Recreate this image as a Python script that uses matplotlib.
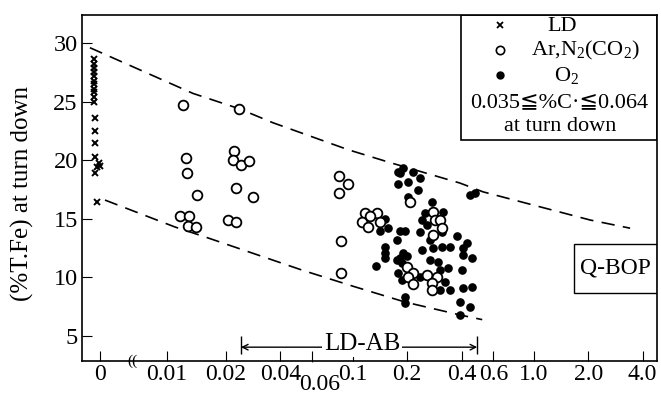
import numpy as np
import matplotlib
matplotlib.use('Agg')
import matplotlib.pyplot as plt
from matplotlib.patches import Rectangle
import matplotlib.transforms as mtransforms

plt.rcParams['font.family'] = ['Liberation Serif', 'DejaVu Serif', 'DejaVu Sans']
plt.rcParams['mathtext.fontset'] = 'custom'
plt.rcParams['mathtext.rm'] = 'Liberation Serif'
plt.rcParams['mathtext.default'] = 'regular'

# --- data (%C at turn down, %T.Fe at turn down) ---
ld_c = [-0.0009] * 11 + [-0.0007] * 5 + [-0.0002, 0.0, -0.0004, -0.0004]
ld_fe = [28.6, 28.2, 27.9, 27.5, 27.2, 26.8, 26.5, 26.1, 25.8, 25.4, 25.0,
         23.6, 22.5, 21.5, 20.3, 18.9,
         19.8, 19.5, 19.4, 16.4]

ar_c = [0.01206, 0.0236, 0.0125, 0.01265, 0.01422, 0.01165, 0.01295, 0.0128, 0.01406,
        0.0221, 0.0219, 0.0242, 0.0268, 0.0227, 0.0282, 0.0205, 0.0227,
        0.0841, 0.0944, 0.0841, 0.0863, 0.0863,
        0.117, 0.1365, 0.1128, 0.1248, 0.1418, 0.1217,
        0.208, 0.278, 0.285, 0.304, 0.312, 0.278,
        0.200, 0.216, 0.202, 0.216, 0.258, 0.293, 0.275, 0.275]
ar_fe = [24.7, 24.4, 20.2, 18.9, 17.0, 15.2, 15.2, 14.4, 14.3,
         20.8, 20.0, 19.6, 19.9, 17.6, 16.9, 14.9, 14.7,
         18.65, 17.97, 17.2, 13.1, 10.4,
         15.5, 15.5, 14.7, 15.2, 14.7, 14.3,
         16.4, 15.6, 14.9, 14.9, 14.2, 13.6,
         10.9, 10.4, 10.0, 9.4, 10.2, 10.0, 9.5, 8.9]

o2_c = [0.178, 0.178, 0.151, 0.157, 0.142, 0.176, 0.151, 0.151, 0.151, 0.135, 0.176,
        0.190, 0.183, 0.216, 0.236, 0.202, 0.230, 0.202, 0.445, 0.475,
        0.275, 0.316, 0.251, 0.242, 0.258, 0.312, 0.268, 0.236, 0.183, 0.195,
        0.378, 0.429, 0.278, 0.312, 0.345, 0.408, 0.242, 0.408, 0.457,
        0.268, 0.297, 0.190, 0.183, 0.200, 0.188, 0.178, 0.188, 0.236,
        0.304, 0.337, 0.324, 0.304, 0.345, 0.402, 0.408, 0.457,
        0.392, 0.445, 0.195, 0.195, 0.392]
o2_fe = [19.0, 18.0, 15.0, 14.2, 14.0, 13.2, 12.6, 12.1, 11.7, 11.0, 11.5,
         19.3, 18.9, 19.0, 18.5, 18.1, 17.5, 16.9, 17.0, 17.2,
         16.4, 15.6, 15.5, 14.9, 14.5, 13.9, 13.2, 13.9, 14.0, 14.0,
         13.5, 12.9, 12.5, 12.6, 12.6, 12.5, 12.3, 11.9, 11.7,
         11.5, 11.3, 12.1, 11.7, 11.8, 11.2, 10.4, 9.8, 10.0,
         10.6, 10.8, 9.6, 8.9, 8.9, 10.6, 9.1, 9.2,
         7.9, 7.5, 8.3, 7.8, 6.8]

upper_c = [-0.0015, 0.01357, 0.0236, 0.0363, 0.0944, 0.161, 0.392, 0.526, 2.05, 3.41]
upper_fe = [29.6, 25.7, 24.4, 23.2, 20.9, 19.8, 18.05, 17.3, 14.9, 14.2]
lower_c = [0.00075, 0.0110, 0.0160, 0.0532, 0.103, 0.195, 0.392, 0.52]
lower_fe = [16.6, 14.3, 13.4, 10.6, 9.2, 7.9, 6.8, 6.4]

xticks = [0, 0.01, 0.02, 0.04, 0.06, 0.1, 0.2, 0.4, 0.6, 1.0, 2.0, 4.0]
xlabels = ['0', '0.01', '0.02', '0.04', '', '0.1', '0.2', '0.4', '0.6', '1.0', '2.0', '4.0']
yticks = [5, 10, 15, 20, 25, 30]

ldab_range = [0.0242, 0.488]

# broken axis: linear 0..0.01, stretched log 0.01..0.02, log above
U0 = -126 / 54.5
U1 = -59 / 54.5
K = 59 / 54.5


def fwd(x):
    x = np.asarray(x, float)
    lin = U0 + x / 0.01 * (U1 - U0)
    mid = np.log2(np.clip(x, 0.01, 0.02) / 0.02) * K
    hi = np.log2(np.clip(x, 0.02, None) / 0.02)
    return np.where(x < 0.01, lin, np.where(x < 0.02, mid, hi))


def inv(u):
    u = np.asarray(u, float)
    lin = (u - U0) / (U1 - U0) * 0.01
    mid = 0.02 * 2 ** (np.clip(u, U1, 0) / K)
    hi = 0.02 * 2 ** np.clip(u, 0, 60)
    return np.where(u < U1, lin, np.where(u < 0, mid, hi))


fig = plt.figure(figsize=(6.61, 3.94), dpi=100)
ax = fig.add_axes([82 / 661, 1 - 361 / 394, 575 / 661, 346 / 394])
ax.set_xscale('function', functions=(fwd, inv))
ax.set_xlim(-0.00268, 4.80)
ax.set_ylim(2.87, 32.39)

ax.plot(upper_c, upper_fe, color='black', lw=1.2, ls=(0, (8, 5)))
ax.plot(lower_c, lower_fe, color='black', lw=1.2, ls=(0, (8, 5)))

ax.plot(ld_c, ld_fe, 'x', color='black', ms=5, mew=1.4, ls='none')
ax.plot(o2_c, o2_fe, 'o', color='black', ms=5.2, ls='none')
ax.plot(ar_c, ar_fe, 'o', mfc='white', mec='black', ms=7, mew=1.3, ls='none')

ax.set_xticks(xticks)
ax.set_xticklabels(xlabels)
ax.minorticks_off()
ax.set_yticks(yticks)
ax.tick_params(axis='x', direction='in', length=7, labelsize=17, pad=2)
ax.tick_params(axis='y', direction='in', length=7, labelsize=17.5, pad=3)
for s in ax.spines.values():
    s.set_linewidth(1.2)

ax.set_ylabel('(%T.Fe) at turn down', fontsize=18)
ax.yaxis.set_label_coords(-0.083, 0.483)

blend = mtransforms.blended_transform_factory(ax.transData, ax.transAxes)
# 0.06 label dropped below the axis
ax.annotate('0.06', xy=(0.06, 0), xycoords=blend, xytext=(5, -17),
            textcoords='offset points', ha='center', va='center', fontsize=17,
            arrowprops=dict(arrowstyle='-', lw=0.8, color='black', shrinkA=7, shrinkB=1))
# axis break mark
ax.text(0.0048, 0, '((', transform=blend, ha='center', va='center', fontsize=11)

# LD-AB range
ax.annotate('', xy=(ldab_range[0], 4.05), xytext=(ldab_range[1], 4.05),
            arrowprops=dict(arrowstyle='<->', lw=1.0, color='black', shrinkA=0, shrinkB=0))
ax.vlines(ldab_range, 3.5, 5.0, color='black', lw=1.0)
ax.text(0.113, 4.3, 'LD-AB', ha='center', va='center', fontsize=18,
        bbox=dict(facecolor='white', edgecolor='none', pad=1))

# legend box
ax.add_patch(Rectangle((0.659, 0.639), 0.341, 0.361, transform=ax.transAxes,
                       fill=False, lw=1.2, ec='black'))
ax.plot([0.727], [0.971], 'x', color='black', ms=4, mew=1.3, transform=ax.transAxes, clip_on=False)
ax.plot([0.727], [0.899], 'o', mfc='white', mec='black', ms=6, mew=1.2, transform=ax.transAxes)
ax.plot([0.727], [0.827], 'o', color='black', ms=5, transform=ax.transAxes)
ax.text(0.835, 0.968, 'LD', transform=ax.transAxes, ha='center', va='center', fontsize=16)
ax.text(0.875, 0.896, 'Ar,N$_2$(CO$_2$)', transform=ax.transAxes, ha='center', va='center', fontsize=16)
ax.text(0.843, 0.824, 'O$_2$', transform=ax.transAxes, ha='center', va='center', fontsize=16)
ax.text(0.83, 0.748, '0.035≦%C·≦0.064', transform=ax.transAxes, ha='center', va='center', fontsize=16)
ax.text(0.831, 0.677, 'at turn down', transform=ax.transAxes, ha='center', va='center', fontsize=16)

# Q-BOP box
ax.add_patch(Rectangle((0.856, 0.197), 0.144, 0.141, transform=ax.transAxes,
                       fill=False, lw=1.0, ec='black'))
ax.text(0.928, 0.268, 'Q-BOP', transform=ax.transAxes, ha='center', va='center', fontsize=17)

fig.savefig('out.png', dpi=100)
